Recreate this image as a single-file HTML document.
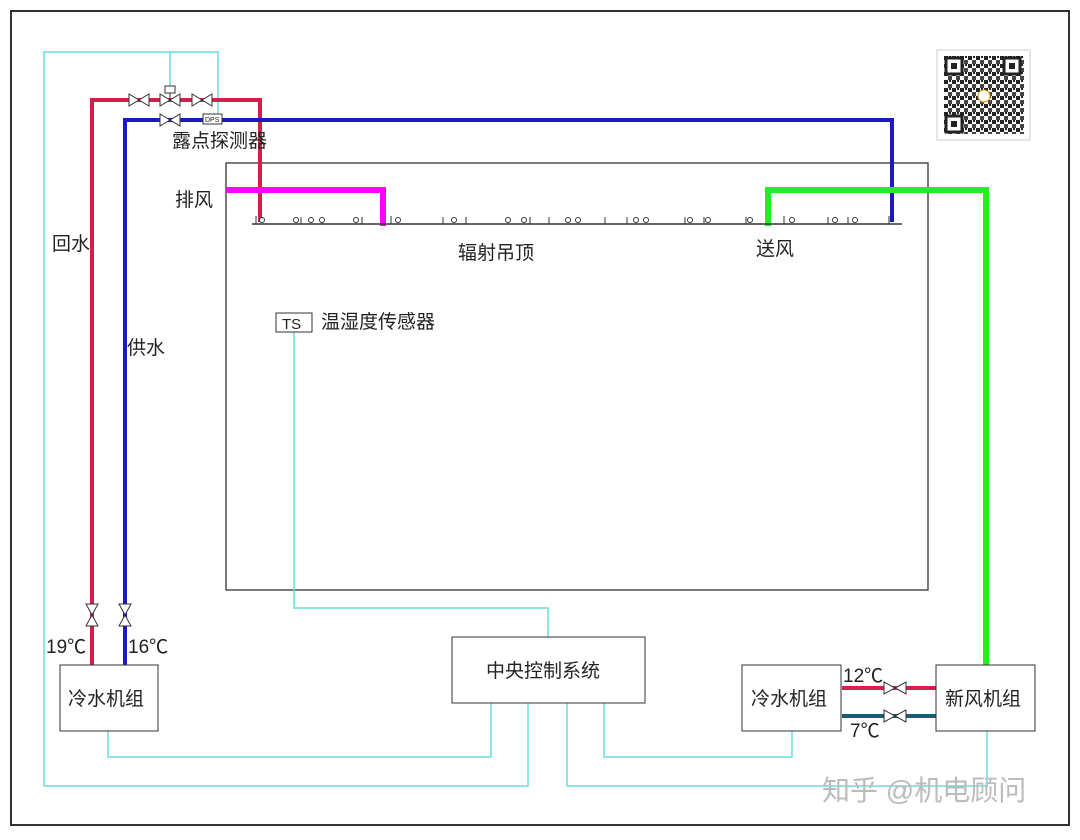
<!DOCTYPE html>
<html><head><meta charset="utf-8"><style>
body{margin:0;background:#fff}
svg text{font-family:"Liberation Sans","Noto Sans CJK SC",sans-serif;fill:#222}
</style></head><body>
<svg width="1080" height="835" viewBox="0 0 1080 835" xmlns="http://www.w3.org/2000/svg">
<defs>
<pattern id="qr" width="8" height="8" patternUnits="userSpaceOnUse">
<rect width="8" height="8" fill="#fff"/><rect width="4" height="4" fill="#222"/><rect x="4" y="4" width="4" height="4" fill="#444"/><rect x="5" y="0" width="2" height="2" fill="#222"/>
</pattern>
</defs>
<rect x="11" y="11" width="1058" height="814" fill="none" stroke="#333" stroke-width="2"/>
<rect x="226" y="163" width="702" height="427" fill="none" stroke="#333" stroke-width="1.3"/>
<g fill="none" stroke="#6dd" stroke-width="1.5">
<path d="M44 786V52H218V118M170 52V90M44 786H528V703"/>
<path d="M108 731V757H491V703"/>
<path d="M294 332V608H548V637"/>
<path d="M604 703V757H792V731"/>
<path d="M567 703V786H987V731"/>
</g>
<path d="M92 665V100H260V222" fill="none" stroke="#d2204a" stroke-width="4"/>
<path d="M125 665V120H892V222" fill="none" stroke="#1a1ac0" stroke-width="4"/>
<path d="M226 190H383V226" fill="none" stroke="#f0f" stroke-width="6"/>
<path d="M768 226V190H986V665" fill="none" stroke="#2e2" stroke-width="6"/>
<path d="M842 688H936" stroke="#d2204a" stroke-width="4"/>
<path d="M842 716H936" stroke="#1a5a78" stroke-width="4"/>
<line x1="252" y1="224" x2="902" y2="224" stroke="#333" stroke-width="1.5"/>
<g fill="#fff" stroke="#333" stroke-width="1">
<path d="M129 94V106L139 100ZM149 94V106L139 100Z"/>
<path d="M160 94V106L170 100ZM180 94V106L170 100Z"/>
<path d="M192 94V106L202 100ZM212 94V106L202 100Z"/>
<rect x="165" y="86" width="10" height="7"/><line x1="170" y1="93" x2="170" y2="100"/>
<path d="M160 114V126L170 120ZM180 114V126L170 120Z"/>
<rect x="203" y="114" width="19" height="10"/>
<path d="M86 604L98 604L92 615ZM86 626L98 626L92 615Z"/>
<path d="M119 604L131 604L125 615ZM119 626L131 626L125 615Z"/>
<path d="M884 682V694L895 688ZM906 682V694L895 688Z"/>
<path d="M884 710V722L895 716ZM906 710V722L895 716Z"/>
<rect x="276" y="313" width="36" height="19"/>
<rect x="60" y="665" width="98" height="66"/>
<rect x="452" y="637" width="193" height="66"/>
<rect x="742" y="665" width="99" height="66"/>
<rect x="936" y="665" width="99" height="66"/>
</g>
<text x="205" y="122" font-size="7">DPS</text>
<g fill="none" stroke="#333" stroke-width="1">
<path d="M256 224v-8M301 224v-7M322 224v-7M362 224v-7M391 224v-8M443 224v-7M466 224v-7M530 224v-7M549 224v-7M605 224v-7M627 224v-7M685 224v-7M704 224v-7M746 224v-7M784 224v-8M828 224v-7M848 224v-7M889 224v-8"/>
</g>
<g fill="#fff" stroke="#333" stroke-width="1">
<circle cx="262" cy="220" r="2.5"/><circle cx="296" cy="220" r="2.5"/><circle cx="311" cy="220" r="2.5"/><circle cx="322" cy="220" r="2.5"/><circle cx="356" cy="220" r="2.5"/><circle cx="398" cy="220" r="2.5"/><circle cx="454" cy="220" r="2.5"/><circle cx="508" cy="220" r="2.5"/><circle cx="524" cy="220" r="2.5"/><circle cx="568" cy="220" r="2.5"/><circle cx="578" cy="220" r="2.5"/><circle cx="636" cy="220" r="2.5"/><circle cx="646" cy="220" r="2.5"/><circle cx="690" cy="220" r="2.5"/><circle cx="708" cy="220" r="2.5"/><circle cx="750" cy="220" r="2.5"/><circle cx="792" cy="220" r="2.5"/><circle cx="835" cy="220" r="2.5"/><circle cx="855" cy="220" r="2.5"/>
</g>
<rect x="937" y="50" width="93" height="90" fill="#fff" stroke="#ccc"/>
<rect x="944" y="56" width="80" height="78" fill="url(#qr)"/>
<g fill="#fff" stroke="#222" stroke-width="3">
<rect x="946" y="58" width="16" height="16"/><rect x="1004" y="58" width="16" height="16"/><rect x="946" y="116" width="16" height="16"/>
</g>
<g fill="#222"><rect x="951" y="63" width="6" height="6"/><rect x="1009" y="63" width="6" height="6"/><rect x="951" y="121" width="6" height="6"/></g>
<circle cx="984" cy="96" r="6" fill="#fff" stroke="#d90"/>
<g font-size="19">
<text x="172" y="147">露点探测器</text>
<text x="175" y="206">排风</text>
<text x="52" y="250">回水</text>
<text x="127" y="354">供水</text>
<text x="458" y="259">辐射吊顶</text>
<text x="756" y="255">送风</text>
<text x="321" y="328">温湿度传感器</text>
<text x="282" y="329" font-size="15">TS</text>
<text x="46" y="653">19℃</text>
<text x="128" y="653">16℃</text>
<text x="68" y="705">冷水机组</text>
<text x="486" y="677">中央控制系统</text>
<text x="751" y="705">冷水机组</text>
<text x="945" y="705">新风机组</text>
<text x="843" y="682">12℃</text>
<text x="850" y="737">7℃</text>
<text x="822" y="800" font-size="28" style="fill:#bbb">知乎 @机电顾问</text>
</g>
</svg>
</body></html>
